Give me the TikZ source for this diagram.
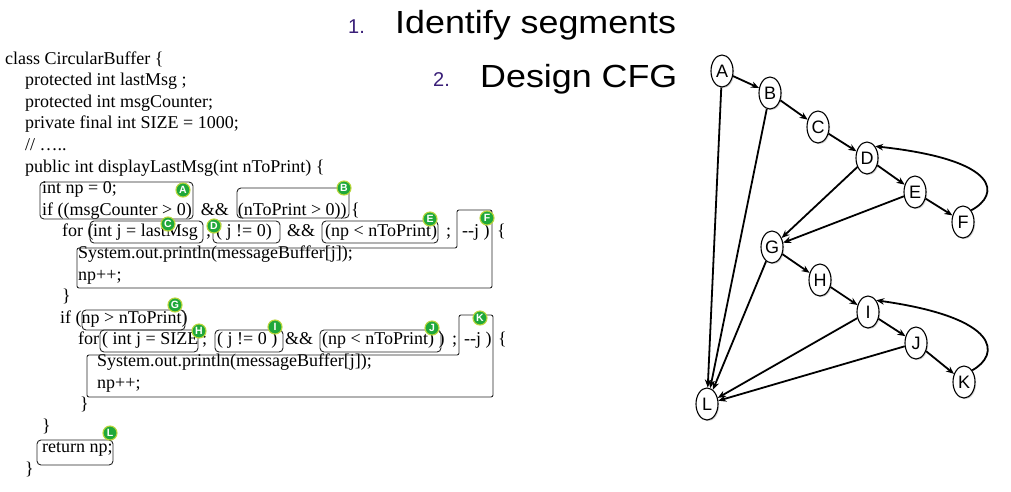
\documentclass[tikz,border=0pt]{standalone}
\usepackage{graphicx}
\usepackage{fontspec}
\setmainfont{Liberation Serif}[Ligatures=CommonOff]
\setsansfont{Liberation Sans}
\usepackage{tikz}
\usetikzlibrary{arrows.meta,shapes.geometric,shadows}
\definecolor{seggreen}{HTML}{1FA83A}
\definecolor{segrim}{HTML}{B9D53A}
\definecolor{listpurple}{HTML}{3A1F78}

\begin{document}
\begin{tikzpicture}[
    x=1pt, y=-1pt,
    >={Stealth[length=8pt,width=6.5pt]},
    code/.style={anchor=base west, inner sep=0pt, font=\fontsize{18}{20}\selectfont},
    segbox/.style={draw=black!85, line width=0.9pt, rounded corners=4pt},
    tag/.style={circle, fill=seggreen, draw=segrim, line width=1.1pt, minimum size=14pt, inner sep=0pt, text=white, font=\sffamily\bfseries\fontsize{10.5}{10.5}\selectfont},
    cfg/.style={ellipse, draw, line width=1.1pt, fill=white, minimum width=22pt, minimum height=32pt, inner sep=0pt, font=\sffamily\fontsize{18}{18}\selectfont, drop shadow={shadow xshift=1.2pt, shadow yshift=-1.2pt, opacity=0.35}},
    flow/.style={->, line width=1.8pt},
    title/.style={anchor=base west, inner sep=0pt, font=\sffamily\fontsize{32}{32}\selectfont},
    num/.style={anchor=base west, inner sep=0pt, text=listpurple, font=\sffamily\fontsize{20}{20}\selectfont}
]
\useasboundingbox (0,0) rectangle (1011,491);

% steps
\node[num] (n1) at (348,33) {1.};
\node[title] (t1) at (395,33) {\scalebox{1.12}[1]{Identify segments}};
\node[num] (n2) at (433,86) {2.};
\node[title] (t2) at (480,87) {\scalebox{1.12}[1]{Design CFG}};

% source code
\node[code] (l1) at (5,64) {class CircularBuffer \{};
\node[code] (l2) at (25,85.6) {protected int lastMsg ;};
\node[code] (l3) at (25,107.2) {protected int msgCounter;};
\node[code] (l4) at (25,128.8) {private final int SIZE = 1000;};
\node[code] (l5) at (25,150.4) {// …..};
\node[code] (l6) at (25,172) {public int displayLastMsg(int nToPrint) \{};
\node[code] (l7) at (42,193.6) {int np = 0;};
\node[code] (l8) at (42,215.2) {if ((msgCounter > 0)~~\&\&~~(nToPrint > 0)) \{};
\node[code] (l9a) at (62,236.8) {for (};
\node[code] (l9b) at (93,236.8) {int j = lastMsg};
\node[code] (l9c) at (206,236.8) {;};
\node[code] (l9d) at (216,236.8) {( j != 0)};
\node[code] (l9e) at (287,236.8) {\&\&};
\node[code] (l9f) at (325,236.8) {(np < nToPrint)};
\node[code] (l9g) at (446,236.8) {;};
\node[code] (l9h) at (462,236.8) {-{}-j )};
\node[code] (l9i) at (497,236.8) {\{};
\node[code] (l10) at (78,258.4) {System.out.println(messageBuffer[j]);};
\node[code] (l11) at (78,280) {np++;};
\node[code] (l12) at (62,301.6) {\}};
\node[code] (l13) at (60,323.2) {if (np > nToPrint)};
\node[code] (l14a) at (78,344.8) {for};
\node[code] (l14b) at (102,344.8) {( int j = SIZE};
\node[code] (l14c) at (202,344.8) {;};
\node[code] (l14d) at (217,344.8) {( j != 0 )};
\node[code] (l14e) at (285,344.8) {\&\&};
\node[code] (l14f) at (322,344.8) {(np < nToPrint) )};
\node[code] (l14g) at (452,344.8) {;};
\node[code] (l14h) at (464,344.8) {-{}-j )};
\node[code] (l14i) at (498,344.8) {\{};
\node[code] (l15) at (97,366.4) {System.out.println(messageBuffer[j]);};
\node[code] (l16) at (97,388) {np++;};
\node[code] (l17) at (80,409.6) {\}};
\node[code] (l18) at (42,431.2) {\}};
\node[code] (l19) at (42,452.8) {return np;};
\node[code] (l20) at (25,474.4) {\}};

% segments
\draw[segbox] (40,182) rectangle (193,219);
\draw[segbox] (237,188) rectangle (349,218);
\draw[segbox] (90,221) rectangle (203,243);
\draw[segbox] (213,221) rectangle (280,243);
\draw[segbox] (322,221) rectangle (438,243);
\draw[segbox, rounded corners=2pt] (457,248) -- (457,210) -- (492,210) -- (492,288) -- (77,288) -- (77,248) -- cycle;
\draw[segbox] (82,310) rectangle (185,330);
\draw[segbox] (100,330) rectangle (198,352);
\draw[segbox] (215,330) rectangle (283,352);
\draw[segbox] (320,330) rectangle (441,352);
\draw[segbox, rounded corners=2pt] (459,355) -- (459,315) -- (493,315) -- (493,397) -- (87,397) -- (87,355) -- cycle;
\draw[segbox] (37,440) rectangle (113,465);

\node[tag] (sA) at (183,190) {A};
\node[tag] (sB) at (344,188) {B};
\node[tag] (sC) at (168,224) {C};
\node[tag] (sD) at (214,226) {D};
\node[tag] (sE) at (430,219) {E};
\node[tag] (sF) at (487,218) {F};
\node[tag] (sG) at (175,305) {G};
\node[tag] (sH) at (199,331) {H};
\node[tag] (sI) at (275,327) {I};
\node[tag] (sJ) at (432,328) {J};
\node[tag] (sK) at (480,318) {K};
\node[tag] (sL) at (110,433) {L};

% control flow graph
\node[cfg] (A) at (722,71) {A};
\node[cfg] (B) at (770,93) {B};
\node[cfg] (C) at (818,127) {C};
\node[cfg] (D) at (867,158) {D};
\node[cfg] (E) at (915,192) {E};
\node[cfg] (F) at (963,222) {F};
\node[cfg] (G) at (772,247) {G};
\node[cfg] (H) at (820,280) {H};
\node[cfg] (I) at (868,312) {I};
\node[cfg] (J) at (916,343) {J};
\node[cfg] (K) at (964,382) {K};
\node[cfg] (L) at (707,404) {L};

\draw[flow] (A) -- (B);
\draw[flow] (B) -- (C);
\draw[flow] (C) -- (D);
\draw[flow] (D) -- (E);
\draw[flow] (E) -- (F);
\draw[flow] (F.north east) .. controls (1000,195) and (1002,160) .. (D.north east);
\draw[flow] (D) -- (G);
\draw[flow] (E) -- (G);
\draw[flow] (A) -- (L);
\draw[flow] (B) -- (L);
\draw[flow] (G) -- (H);
\draw[flow] (H) -- (I);
\draw[flow] (I) -- (J);
\draw[flow] (J) -- (K);
\draw[flow] (K.north east) .. controls (1000,355) and (1002,318) .. (I.north east);
\draw[flow] (G) -- (L);
\draw[flow] (I) -- (L);
\draw[flow] (J) -- (L);
\end{tikzpicture}
\end{document}
